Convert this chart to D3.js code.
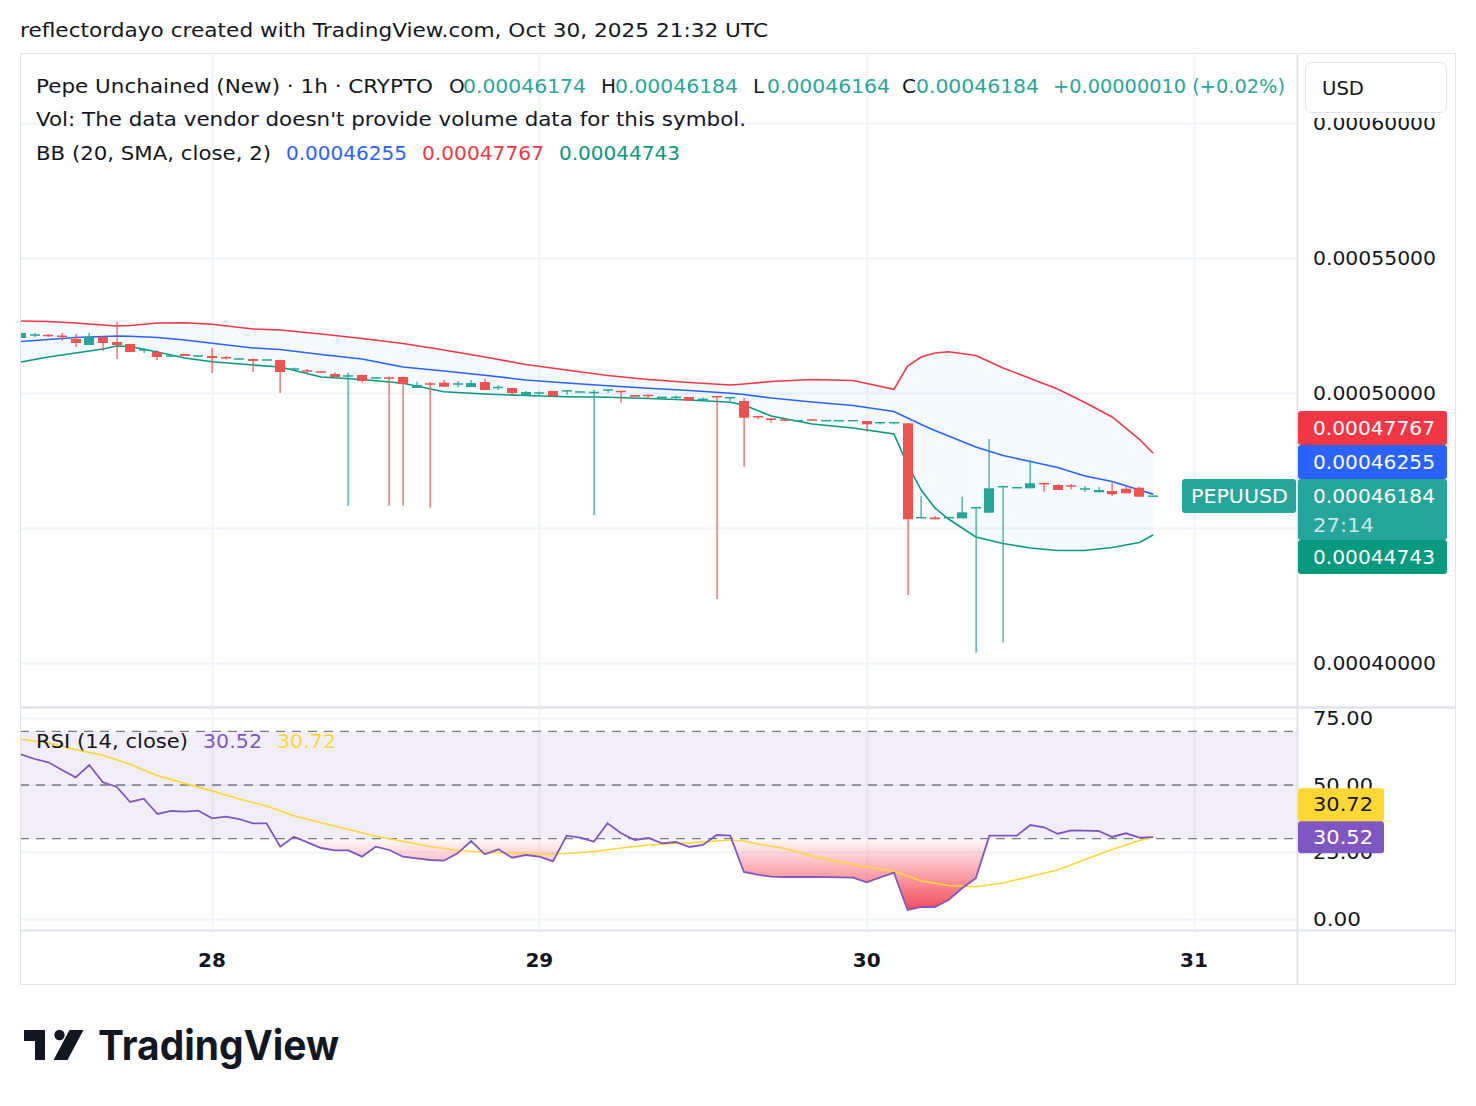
<!DOCTYPE html>
<html><head><meta charset="utf-8">
<script src="https://cdn.jsdelivr.net/npm/d3@7"></script>
<style>
body{margin:0;background:#fff;}
svg{display:block;}
text{font-family:"DejaVu Sans",sans-serif;}
</style>
</head><body>
<svg id="c" width="1476" height="1106"></svg>
<script>
// ---------------- DATA ----------------
const symbol = "PEPUUSD";
const startHourUTC = Date.UTC(2025, 9, 27, 10); // first candle: Oct 27 10:00 UTC, 1h candles
const opens  = [52037,52130,52148,52130,52000,51778,52074,51889,51815,51574,51519,51352,51444,51352,51370,51333,51241,51259,51204,51222,50870,50833,50796,50704,50611,50667,50537,50574,50593,50185,50352,50381,50315,50222,50407,50185,50185,49900,49981,50074,50067,50019,50000,50093,50074,49926,49926,49822,49822,49852,49748,49881,49807,49704,49141,49063,49019,48956,49019,48956,48956,48956,48963,48881,48881,48878,45363,45389,45363,45359,45733,45567,46511,46474,46470,46667,46593,46574,46426,46322,46370,46456,46493,46174].map(v=>v*1e-8);
const highs  = [52222,52222,52185,52222,52185,52222,52093,52630,51815,51667,51593,51389,51444,51389,51667,51370,51278,51296,51241,51241,50944,50889,50815,50759,50752,50685,50593,50611,50611,50419,50407,50481,50444,50481,50519,50278,50204,50074,50056,50074,50093,50056,50111,50130,50074,49926,49944,49859,49907,49852,49833,49881,49844,49815,49141,49063,49019,48993,49019,48993,48993,48993,48963,48919,48919,48878,46185,45444,45400,46159,45770,48296,46556,46511,47519,46667,46630,46630,46556,46519,46678,46530,46530,46184].map(v=>v*1e-8);
const lows   = [52037,52074,52074,51926,51704,51778,51556,51259,51519,51481,51222,51333,51370,51352,50741,51241,51241,50778,51204,50000,50870,50741,50759,50593,45826,50381,50537,45826,45826,50185,45752,50233,50211,50222,50111,50111,49926,49900,49926,49889,49937,50019,45481,50000,49641,49863,49778,49822,49778,49715,49704,42370,49704,47270,49026,48900,48981,48956,48981,48956,48956,48956,48567,48833,48833,42519,45363,45322,45363,45359,40381,45567,40752,46474,46470,46344,46407,46426,46333,46322,46185,46285,46159,46164].map(v=>v*1e-8);
const closes = [52222,52167,52111,52074,51852,52074,51852,51778,51519,51611,51333,51389,51370,51389,51296,51278,51278,51185,51241,50778,50907,50796,50759,50593,50648,50444,50574,50537,50333,50296,50315,50233,50352,50370,50111,50222,50000,50037,50019,49889,50093,50056,50037,50130,50037,49863,49889,49859,49859,49715,49785,49844,49844,49085,49104,49000,48981,48993,48981,48993,48993,48993,48841,48919,48919,45322,45400,45322,45400,45581,45770,46470,46548,46511,46656,46619,46407,46537,46463,46407,46248,46285,46159,46184].map(v=>v*1e-8);

// Bollinger Bands (20, SMA, close, 2) read at these candle indices
const bbIdx   = [0,2,4,6,7,8,10,12,14,17,19,22,25,28,31,34,37,40,43,46,49,52,53,55,58,61,64,65,66,67,68,70,72,74,76,78,80,82,83];
const bbUpper = [0.00052667,0.00052648,0.00052593,0.00052519,0.00052481,0.00052500,0.00052593,0.00052604,0.00052544,0.00052370,0.00052333,0.00052185,0.00052019,0.00051833,0.00051593,0.00051333,0.00051056,0.00050852,0.00050648,0.00050500,0.00050389,0.00050296,0.00050333,0.00050426,0.00050500,0.00050463,0.00050137,0.00051000,0.00051333,0.00051481,0.00051530,0.00051389,0.00050926,0.00050537,0.00050148,0.00049648,0.00049111,0.00048285,0.00047767];
const bbBasis = [0.00051907,0.00051981,0.00052056,0.00052093,0.00052111,0.00052100,0.00052056,0.00051963,0.00051841,0.00051667,0.00051611,0.00051426,0.00051259,0.00050963,0.00050815,0.00050659,0.00050481,0.00050370,0.00050267,0.00050174,0.00050093,0.00049989,0.00049944,0.00049815,0.00049667,0.00049537,0.00049315,0.00049074,0.00048833,0.00048611,0.00048407,0.00048000,0.00047685,0.00047463,0.00047241,0.00046926,0.00046722,0.00046407,0.00046255];
const bbLower = [0.00051148,0.00051333,0.00051481,0.00051630,0.00051741,0.00051722,0.00051519,0.00051296,0.00051159,0.00051037,0.00050963,0.00050593,0.00050500,0.00050359,0.00050048,0.00049963,0.00049907,0.00049859,0.00049841,0.00049796,0.00049741,0.00049656,0.00049556,0.00049148,0.00048852,0.00048704,0.00048481,0.00047333,0.00046407,0.00045741,0.00045333,0.00044667,0.00044426,0.00044259,0.00044167,0.00044167,0.00044278,0.00044463,0.00044743];

// RSI (14, close), one value per candle
const rsi = [61.46,59.70,58.47,55.6,52.87,57.46,51.0,49.37,43.66,44.9,39.18,40.3,40.04,40.41,37.57,38.17,37.31,35.71,35.71,26.98,30.71,28.62,26.49,25.63,25.63,23.25,26.98,25.75,23.25,22.6,22.01,21.75,24.51,29.1,24.14,26.0,22.87,23.88,23.25,21.53,31.08,30.34,28.84,35.71,31.98,29.48,30.22,28.25,28.73,26.87,27.61,31.34,31.08,17.54,16.53,15.78,15.67,15.67,15.67,15.6,15.5,15.41,13.69,15.56,17.28,3.36,4.48,4.48,7.09,11.46,15.19,31.08,31.08,31.08,35.07,34.22,31.83,33.1,32.95,32.84,30.6,31.98,30.34,30.52];
// RSI moving average read at these candle indices
const maIdx = [0,2,4,6,8,10,12,14,16,18,20,22,24,26,28,30,32,34,36,38,40,42,44,46,48,50,52,53,54,56,58,60,62,64,66,68,70,72,74,76,78,80,82,83];
const rsiMA = [67.05,65.67,63.2,61.1,57.7,53.5,50.6,47.8,44.8,42.16,38.5,35.9,33.4,31.0,29.0,27.05,25.56,24.89,24.63,24.25,24.44,25.19,26.49,27.61,28.17,28.73,29.48,29.1,27.99,26.31,23.51,21.27,19.51,17.8,14.18,12.5,12.05,13.43,15.86,18.28,22.2,25.93,29.29,30.72];

const priceTicks = [0.0004,0.00045,0.0005,0.00055,0.0006];
const rsiTicks = [0,25,50,75];
const rsiLevels = [70,50,30];
const dayTicks = [Date.UTC(2025,9,28),Date.UTC(2025,9,29),Date.UTC(2025,9,30),Date.UTC(2025,9,31)];
const dayLabels = ["28","29","30","31"];

// ---------------- LAYOUT ----------------
const svg = d3.select("#c");
const L=20, R=1297, AX=1456, mTop=55, mBot=707, rTop=708, rBot=930, tBot=985;
const UP="#26a69a", DN="#ef5350";
const times = opens.map((_,i)=>new Date(startHourUTC + i*3600e3));
const x = d3.scaleUtc().domain([new Date(dayTicks[0]), new Date(dayTicks[3])]).range([212,1194]);
const y = d3.scaleLinear().domain([0.0004,0.0006]).range([663,123]);
const yR = d3.scaleLinear().domain([0,75]).range([919,718]);
const fmt = d3.format(".8f");

const defs = svg.append("defs");
defs.append("clipPath").attr("id","mclip").append("rect").attr("x",L).attr("y",mTop).attr("width",R-L).attr("height",mBot-mTop);
defs.append("clipPath").attr("id","rclip").append("rect").attr("x",L).attr("y",rTop).attr("width",R-L).attr("height",rBot-rTop);
defs.append("clipPath").attr("id","osclip").append("rect").attr("x",L).attr("y",yR(30)).attr("width",R-L).attr("height",yR(0)-yR(30));
const g = defs.append("linearGradient").attr("id","osg").attr("gradientUnits","userSpaceOnUse")
  .attr("x1",0).attr("x2",0).attr("y1",yR(30)).attr("y2",yR(0));
g.append("stop").attr("offset","0").attr("stop-color","#f23645").attr("stop-opacity",0.03);
g.append("stop").attr("offset","1").attr("stop-color","#f23645").attr("stop-opacity",1);

function txt(s, tx, ty, opt={}){
  const t = svg.append("text").attr("x",tx).attr("y",ty).text(s)
    .attr("font-size",opt.size||20).attr("fill",opt.fill||"#131722");
  if(opt.len){ t.attr("textLength",opt.len).attr("lengthAdjust","spacingAndGlyphs"); }
  if(opt.anchor) t.attr("text-anchor",opt.anchor);
  if(opt.weight) t.attr("font-weight",opt.weight);
  return t;
}
txt("reflectordayo created with TradingView.com, Oct 30, 2025 21:32 UTC", 20, 37, {len:748});

// grid
const grid = svg.append("g");
grid.selectAll(".hg").data(priceTicks).join("line")
  .attr("x1",L).attr("x2",R).attr("y1",d=>Math.round(y(d))+0.5).attr("y2",d=>Math.round(y(d))+0.5)
  .attr("stroke","#f0f3fa").attr("stroke-width",2);
grid.selectAll(".rg").data(rsiTicks).join("line")
  .attr("x1",L).attr("x2",R).attr("y1",d=>Math.round(yR(d))+0.5).attr("y2",d=>Math.round(yR(d))+0.5)
  .attr("stroke","#f0f3fa").attr("stroke-width",2);
grid.selectAll(".vg").data(dayTicks).join("line")
  .attr("x1",d=>Math.round(x(new Date(d)))+0.5).attr("x2",d=>Math.round(x(new Date(d)))+0.5)
  .attr("y1",mTop).attr("y2",rBot).attr("stroke","#f0f3fa").attr("stroke-width",2);

// ---------------- MAIN PANE ----------------
const main = svg.append("g").attr("clip-path","url(#mclip)");
const bbT = bbIdx.map(i=>times[i]);
main.append("path").datum(bbIdx.map((_,k)=>k))
  .attr("d", d3.area().x(k=>x(bbT[k])).y0(k=>y(bbLower[k])).y1(k=>y(bbUpper[k])))
  .attr("fill","rgba(33,150,243,0.05)");
[[bbUpper,"#f23645"],[bbBasis,"#2962ff"],[bbLower,"#089981"]].forEach(([arr,c])=>{
  main.append("path").datum(arr)
    .attr("d", d3.line().x((d,k)=>x(bbT[k])).y(d=>y(d)))
    .attr("fill","none").attr("stroke",c).attr("stroke-width",1.6);
});
const cw = 10;
const cg = main.append("g");
opens.forEach((o,i)=>{
  const c = closes[i], col = c>=o ? UP : DN;
  const cx = Math.round(x(times[i]));
  cg.append("rect").attr("x",cx-0.5).attr("width",1.2)
    .attr("y",y(highs[i])).attr("height",Math.max(1,y(lows[i])-y(highs[i]))).attr("fill",col);
  const top = y(Math.max(o,c)), bot = y(Math.min(o,c));
  const h = Math.max(1.5, bot-top);
  cg.append("rect").attr("x",cx-cw/2).attr("width",cw)
    .attr("y",(top+bot)/2-h/2).attr("height",h).attr("fill",col);
});

// ---------------- RSI PANE ----------------
const rp = svg.append("g").attr("clip-path","url(#rclip)");
rp.append("rect").attr("x",L).attr("width",R-L).attr("y",yR(70)).attr("height",yR(30)-yR(70))
  .attr("fill","rgba(126,87,194,0.1)");
rp.append("path").datum(rsi).attr("clip-path","url(#osclip)")
  .attr("d", d3.area().x((d,i)=>x(times[i])).y0(yR(30)).y1(d=>yR(d)))
  .attr("fill","url(#osg)");
rp.selectAll(".lv").data(rsiLevels).join("line")
  .attr("x1",L).attr("x2",R).attr("y1",d=>yR(d)).attr("y2",d=>yR(d))
  .attr("stroke","#787b86").attr("stroke-width",1.3).attr("stroke-dasharray","9,7");
rp.append("path").datum(rsiMA)
  .attr("d", d3.line().x((d,k)=>x(times[maIdx[k]])).y(d=>yR(d)))
  .attr("fill","none").attr("stroke","#fdd835").attr("stroke-width",1.6);
rp.append("path").datum(rsi)
  .attr("d", d3.line().x((d,i)=>x(times[i])).y(d=>yR(d)))
  .attr("fill","none").attr("stroke","#7e57c2").attr("stroke-width",1.8);

// ---------------- FRAME ----------------
const fr = svg.append("g").attr("stroke","#e0e3eb").attr("fill","none");
fr.append("rect").attr("x",L+0.5).attr("y",mTop-1.5).attr("width",AX-L-1).attr("height",tBot-mTop+1);
fr.append("line").attr("x1",L).attr("x2",AX).attr("y1",mBot+0.5).attr("y2",mBot+0.5).attr("stroke-width",2.5);
fr.append("line").attr("x1",L).attr("x2",AX).attr("y1",rBot+0.5).attr("y2",rBot+0.5).attr("stroke-width",2);
fr.append("line").attr("x1",R+0.5).attr("x2",R+0.5).attr("y1",mTop).attr("y2",tBot).attr("stroke-width",2);

// ---------------- LEGENDS ----------------
txt("Pepe Unchained (New) · 1h · CRYPTO", 36, 92.5, {len:397});
const lv = [["O",449,463,opens[83]],["H",601,615,highs[83]],["L",753,767,lows[83]],["C",902,916,closes[83]]];
lv.forEach(([k,kx,vx,v])=>{ txt(k,kx,92.5); txt(fmt(v),vx,92.5,{fill:UP,len:123}); });
txt("+0.00000010 (+0.02%)", 1053, 92.5, {fill:UP,len:232});
txt("Vol: The data vendor doesn't provide volume data for this symbol.", 36, 126, {len:710});
txt("BB (20, SMA, close, 2)", 36, 159.5, {len:235});
txt(fmt(bbBasis[bbBasis.length-1]), 286, 159.5, {fill:"#2962ff",len:121});
txt(fmt(bbUpper[bbUpper.length-1]), 422, 159.5, {fill:"#f23645",len:122});
txt(fmt(bbLower[bbLower.length-1]), 559, 159.5, {fill:"#089981",len:121});
txt("RSI (14, close)", 36, 748, {len:152});
txt(rsi[83].toFixed(2), 203, 748, {fill:"#7e57c2",len:59});
txt(rsiMA[rsiMA.length-1].toFixed(2), 277, 748, {fill:"#fdd835",len:59});

// ---------------- PRICE-AXIS LABEL POSITIONS ----------------
const lastClose = closes[83];
const yc = y(lastClose);
const closeTop = yc-17, closeBot = closeTop+61;
const blueTop = Math.min(y(bbBasis[bbBasis.length-1])-17, closeTop-34);
const redTop = Math.min(y(bbUpper[bbUpper.length-1])-17, blueTop-34);
const greenTop = Math.max(y(bbLower[bbLower.length-1])-17, closeBot);
const occTop = redTop, occBot = greenTop+34;

// ---------------- AXES ----------------
// tick labels that fall under the price labels are hidden, as in the platform
priceTicks.filter(p=>y(p)+8<occTop || y(p)-8>occBot).forEach(p=>{ txt(fmt(p), 1313, y(p)+7, {len:123}); });
rsiTicks.forEach(v=>{ txt(v.toFixed(2), 1313, yR(v)+7, {len: v===0?48:60}); });
dayTicks.forEach((d,k)=>{ txt(dayLabels[k], x(new Date(d)), 967, {anchor:"middle",weight:"bold"}); });

// mask + USD box
svg.append("rect").attr("x",1299).attr("y",56).attr("width",156).attr("height",62).attr("fill","#fff");
svg.append("rect").attr("x",1305.5).attr("y",62.5).attr("width",141).attr("height",50).attr("rx",6)
  .attr("fill","#fff").attr("stroke","#e0e3eb");
txt("USD", 1322, 95, {len:42});

function plabel(top,h,fill,s){
  svg.append("rect").attr("x",1298).attr("y",top).attr("width",149).attr("height",h).attr("rx",3).attr("fill",fill);
  txt(s, 1313, top+24, {fill:"#fff",len:122});
}
plabel(redTop,34,"#f23645",fmt(bbUpper[bbUpper.length-1]));
plabel(blueTop,34,"#2962ff",fmt(bbBasis[bbBasis.length-1]));
plabel(closeTop,61,UP,fmt(lastClose));
txt("27:14", 1313, closeTop+53, {fill:"rgba(255,255,255,0.75)",len:61});
plabel(greenTop,34,"#089981",fmt(bbLower[bbLower.length-1]));
svg.append("rect").attr("x",1182).attr("y",closeTop).attr("width",114).attr("height",34).attr("rx",3).attr("fill",UP);
txt(symbol, 1191, closeTop+24, {fill:"#fff",len:97});

// RSI labels
const pTop = yR(rsi[83])-16;
const yTop = Math.min(yR(rsiMA[rsiMA.length-1])-16, pTop-33);
svg.append("rect").attr("x",1298).attr("y",yTop).attr("width",86).attr("height",33).attr("rx",3).attr("fill","#fdd835");
txt(rsiMA[rsiMA.length-1].toFixed(2), 1313, yTop+23, {len:60});
svg.append("rect").attr("x",1298).attr("y",pTop).attr("width",86).attr("height",32).attr("rx",3).attr("fill","#7e57c2");
txt(rsi[83].toFixed(2), 1313, pTop+23, {fill:"#fff",len:60});

// ---------------- LOGO ----------------
const lg = svg.append("g").attr("fill","#131722");
lg.append("path").attr("d","M24,1030 H45 V1060 H35 V1041 H24 Z");
lg.append("circle").attr("cx",59.5).attr("cy",1035).attr("r",5.2);
lg.append("path").attr("d","M69.5,1030 H83.5 L67.5,1060 H53.5 Z");
txt("TradingView", 98, 1060, {size:41, weight:"bold", len:241}).style("font-family","Inter, 'DejaVu Sans', sans-serif");
</script>
</body></html>
